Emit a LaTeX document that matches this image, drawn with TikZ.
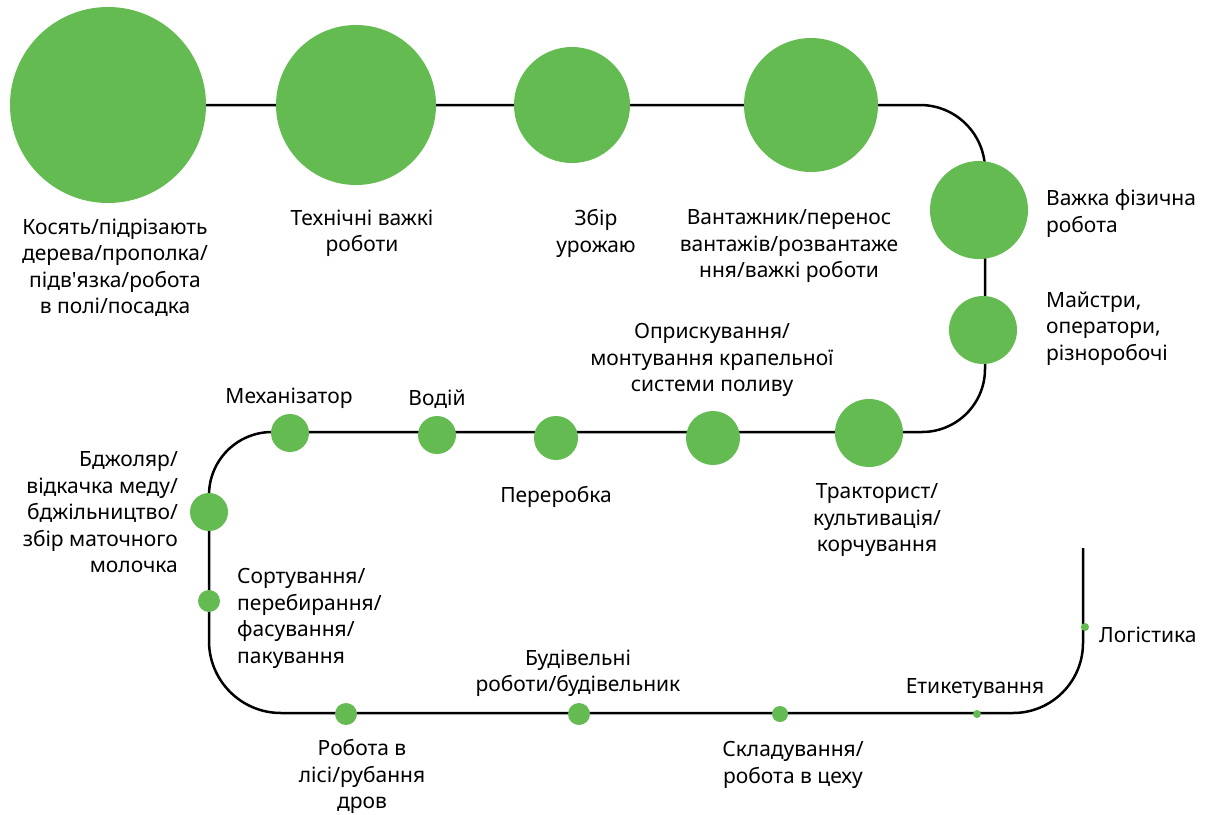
\documentclass[tikz,border=0pt]{standalone}
\usepackage{fontspec}
\setmainfont{Noto Sans}
\definecolor{leaf}{RGB}{99,187,81}
\begin{document}
\begin{tikzpicture}[x=1pt,y=-1pt,
  dot/.style={circle, fill=leaf, draw=none, inner sep=0pt, minimum size=#1},
  lbl/.style={font=\fontsize{21}{26.5}\selectfont, align=center, anchor=north,
    yshift=18.55pt, inner sep=0pt, execute at begin node={\strut}},
  lbll/.style={lbl, align=left, anchor=north west},
  lblr/.style={lbl, align=right, anchor=north east},
  track/.style={line width=2.5pt, black}]
\useasboundingbox (0,0) rectangle (1210,814);

% track coordinates
\coordinate (start) at (108,105);
\coordinate (tr) at (985,105);
\coordinate (mr) at (985,432);
\coordinate (ml) at (209,432);
\coordinate (bl) at (209,713);
\coordinate (br) at (1083,713);
\coordinate (end) at (1083,548);

\draw[track] (start) [rounded corners=65pt] -- (tr) [rounded corners=63pt] -- (mr)
  [rounded corners=63pt] -- (ml) [rounded corners=72pt] -- (bl)
  [rounded corners=70pt] -- (br) -- (end);

% stops along the track
\node[dot=196pt] (n1) at (108,105) {};
\node[dot=160pt] (n2) at (356,105) {};
\node[dot=116pt] (n3) at (572,105) {};
\node[dot=134pt] (n4) at (811,105) {};
\node[dot=98pt]  (n5) at (979,210) {};
\node[dot=68pt]  (n6) at (983,330) {};
\node[dot=68pt]  (n7) at (869,433) {};
\node[dot=54pt]  (n8) at (713,438) {};
\node[dot=44pt]  (n9) at (556,438) {};
\node[dot=38pt]  (n10) at (437,435) {};
\node[dot=38pt]  (n11) at (290,433) {};
\node[dot=38pt]  (n12) at (209,512) {};
\node[dot=22pt]  (n13) at (209,601) {};
\node[dot=22pt]  (n14) at (346,714) {};
\node[dot=22pt]  (n15) at (579,714) {};
\node[dot=16pt]  (n16) at (780,714) {};
\node[dot=8pt]   (n17) at (977,714) {};
\node[dot=8pt]   (n18) at (1085,627) {};

% labels (positions give the first baseline)
\node[lbl] (t1) at (115,237) {Косять/підрізають\\дерева/прополка/\\підв\textquotesingle язка/робота\\в полі/посадка};
\node[lbl] (t2) at (362,228) {Технічні важкі\\роботи};
\node[lbl] (t3) at (596,228) {Збір\\урожаю};
\node[lbl] (t4) at (789,228) {Вантажник/перенос\\вантажів/розвантаже\\ння/важкі роботи};
\node[lbll] (t5) at (1046,208) {Важка фізична\\робота};
\node[lbll] (t6) at (1046,310) {Майстри,\\оператори,\\різноробочі};
\node[lbl] (t7) at (877,502) {Тракторист/\\культивація/\\корчування};
\node[lbl] (t8) at (712,342) {Оприскування/\\монтування крапельної\\системи поливу};
\node[lbl] (t9) at (556,502) {Переробка};
\node[lbl] (t10) at (437,405) {Водій};
\node[lbl] (t11) at (289,403) {Механізатор};
\node[lblr] (t12) at (178,470) {Бджоляр/\\відкачка меду/\\бджільництво/\\збір маточного\\молочка};
\node[lbll] (t13) at (237,587) {Сортування/\\перебирання/\\фасування/\\пакування};
\node[lbl] (t14) at (362,758) {Робота в\\лісі/рубання\\дров};
\node[lbl] (t15) at (578,668) {Будівельні\\роботи/будівельник};
\node[lbl] (t16) at (793,760) {Складування/\\робота в цеху};
\node[lbl] (t17) at (975,693) {Етикетування};
\node[lbll] (t18) at (1099,642) {Логістика};
\end{tikzpicture}
\end{document}
